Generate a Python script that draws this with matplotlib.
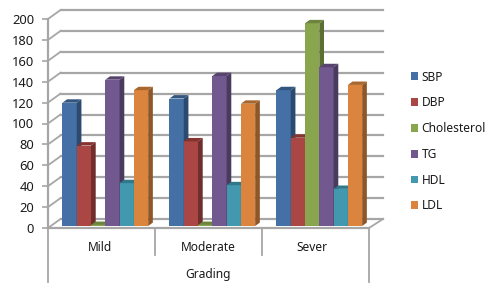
import matplotlib
matplotlib.use('Agg')
import matplotlib.pyplot as plt
from matplotlib.patches import Polygon

plt.rcParams['font.family'] = ['Noto Sans', 'DejaVu Sans']

# data
grades = ['Mild', 'Moderate', 'Sever']
sbp = [118, 122, 130]
dbp = [77, 81, 84.5]
cholesterol = [1, 1, 194]
tg = [140, 143.5, 152]
hdl = [41, 39, 35.5]
ldl = [130, 117, 135]
series_names = ['SBP', 'DBP', 'Cholesterol', 'TG', 'HDL', 'LDL']
y_ticks = list(range(0, 201, 20))

# front, side, top colours
front = ['#4470a5', '#aa4643', '#89a54e', '#71588f', '#4198af', '#db843d']
side = ['#2c4a6e', '#6f2d2b', '#5b6f33', '#4a3a5e', '#2b6474', '#8f5728']
top = ['#335680', '#85332f', '#6d843c', '#58446f', '#31788b', '#a9672e']
grid_col = '#a6a6a6'

W, H = 499, 292
fig = plt.figure(figsize=(W / 100, H / 100), dpi=100)
left, right, y0, y200 = 48, 369, 228, 19
ax = fig.add_axes([left / W, 1 - y0 / H, (right - left) / W, (y0 - y200) / H])
ax.set_xlim(0, 3)
ax.set_ylim(0, 200)

# pixels to data units
px = 3 / (right - left)
py = 200 / (y0 - y200)

# wall: gridlines and diagonals
wall_dx, wall_dy = 12.5 * px, 9 * py
for t in y_ticks:
    ax.plot([0, wall_dx], [t, t + wall_dy], color=grid_col, lw=1.3, clip_on=False, zorder=1)
    ax.plot([wall_dx, 3 + 14 * px], [t + wall_dy, t + wall_dy], color=grid_col, lw=1.6, clip_on=False, zorder=1)
ax.plot([3, 3 + 14 * px], [0, wall_dy], color=grid_col, lw=1.3, clip_on=False, zorder=1)

# bars
values = [sbp, dbp, cholesterol, tg, hdl, ldl]
bar_w = 0.1335
start = 0.135
base = 2 * py
dx, dy = 4.7 * px, 3.4 * py
for g in range(len(grades)):
    for s, vals in enumerate(values):
        x = g + start + s * bar_w
        v = vals[g]
        ax.bar(x, v, bar_w, bottom=base, align='edge', color=front[s], linewidth=0,
               zorder=3, clip_on=False, label=series_names[s] if g == 0 else None)
        t = base + v
        ax.add_patch(Polygon([(x + bar_w, base), (x + bar_w + dx, base + dy), (x + bar_w + dx, t + dy), (x + bar_w, t)],
                             closed=True, fc=side[s], lw=0, zorder=3, clip_on=False))
        ax.add_patch(Polygon([(x, t), (x + dx, t + dy), (x + bar_w + dx, t + dy), (x + bar_w, t)],
                             closed=True, fc=top[s], lw=0, zorder=3, clip_on=False))

# axes lines
for sp in ['top', 'right']:
    ax.spines[sp].set_visible(False)
for sp in ['left', 'bottom']:
    ax.spines[sp].set_color(grid_col)
    ax.spines[sp].set_linewidth(1.6)
    ax.spines[sp].set_zorder(4)
ax.set_yticks(y_ticks)
ax.tick_params(axis='y', length=4, width=1.2, color=grid_col, labelsize=9.3, pad=6, labelcolor='#1a1a1a')
ax.set_xticks([0.49, 1.5, 2.47])
ax.set_xticklabels(grades)
ax.tick_params(axis='x', length=0, labelsize=8.6, pad=9.3, labelcolor='#1a1a1a')
ax.set_xlabel('Grading', fontsize=8.6, color='#1a1a1a', labelpad=10)

# category separators under the floor
for x, low in [(0, 54), (1, 27), (2, 27), (3, 54)]:
    ax.plot([x, x], [0, -low * py], color=grid_col, lw=1.3, clip_on=False, zorder=2)

ax.legend(loc='center left', bbox_to_anchor=(411 / W, 1 - 141.5 / H), bbox_transform=fig.transFigure,
          frameon=False, fontsize=8.6, labelspacing=1.07, handlelength=0.62, handleheight=0.62,
          handletextpad=0.28, borderpad=0, borderaxespad=0, labelcolor='#1a1a1a')

fig.savefig('out.png', dpi=100)
